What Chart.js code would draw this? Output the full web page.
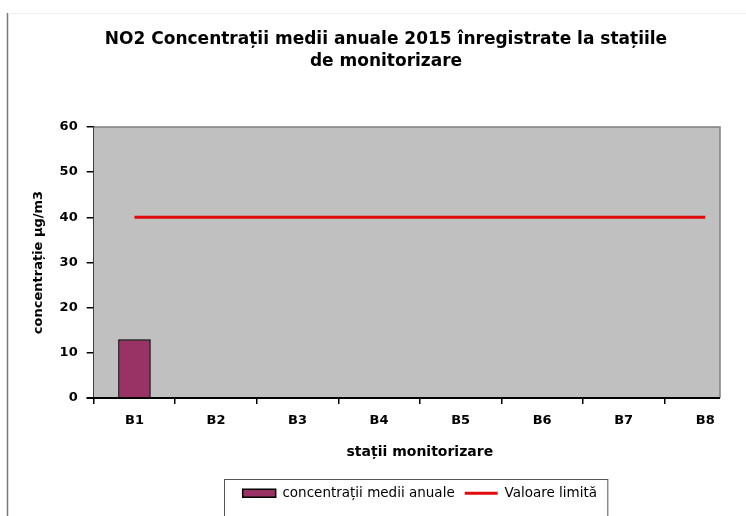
<!DOCTYPE html>
<html>
<head>
<meta charset="utf-8">
<script src="https://cdn.jsdelivr.net/npm/chart.js@4.4.1/dist/chart.umd.min.js"></script>
<style>
  html, body { margin: 0; padding: 0; background: #fff; }
  canvas { display: block; }
</style>
</head>
<body>
<canvas id="c" width="746" height="516"></canvas>
<script>
// NO2 annual means at monitoring stations, 2015
const stations = ["B1", "B2", "B3", "B4", "B5", "B6", "B7", "B8"];
const annualMeans = [13, null, null, null, null, null, null, null];
const limitValue = [40, 40, 40, 40, 40, 40, 40, 40];
const yTicks = [0, 10, 20, 30, 40, 50, 60];

const FONT = "'DejaVu Sans', 'Liberation Sans', Arial, sans-serif";

// grey plot background, top/right frame, x axis line, legend frame, page border
const decor = {
    id: "decor",
    beforeDatasetsDraw(chart) {
        const { ctx, chartArea: a } = chart;
        const right = a.right - 26;
        ctx.save();
        ctx.fillStyle = "#c0c0c0";
        ctx.fillRect(a.left, a.top, right - a.left, a.bottom - a.top);
        ctx.strokeStyle = "#808080";
        ctx.lineWidth = 1.5;
        ctx.beginPath();
        ctx.moveTo(a.left, a.top);
        ctx.lineTo(right, a.top);
        ctx.lineTo(right, a.bottom);
        ctx.stroke();
        ctx.strokeStyle = "#000";
        ctx.lineWidth = 2;
        ctx.beginPath();
        ctx.moveTo(a.left - 7, a.bottom);
        ctx.lineTo(right, a.bottom);
        ctx.stroke();
        ctx.restore();
    },
    afterDraw(chart) {
        const { ctx } = chart;
        ctx.save();
        ctx.strokeStyle = "#777";
        ctx.lineWidth = 1.5;
        ctx.beginPath();
        ctx.moveTo(7.5, 13);
        ctx.lineTo(7.5, 516);
        ctx.stroke();
        ctx.strokeStyle = "#eee";
        ctx.lineWidth = 1;
        ctx.beginPath();
        ctx.moveTo(8, 13.5);
        ctx.lineTo(746, 13.5);
        ctx.stroke();
        const boxes = chart.legend.legendHitBoxes;
        if (boxes && boxes.length) {
            const l = Math.min(...boxes.map(b => b.left)) - 19;
            const r = Math.max(...boxes.map(b => b.left + b.width)) + 10;
            const t = Math.min(...boxes.map(b => b.top)) - 8;
            ctx.strokeStyle = "#555";
            ctx.lineWidth = 1;
            ctx.strokeRect(Math.round(l) + 0.5, Math.round(t) + 0.5, r - l, 60);
        }
        ctx.restore();
    }
};

new Chart(document.getElementById("c"), {
    data: {
        labels: stations,
        datasets: [
            {
                type: "line",
                label: "Valoare limită",
                data: limitValue,
                borderColor: "#e00b0b",
                backgroundColor: "#e00b0b",
                borderWidth: 3,
                pointRadius: 0,
                pointStyle: "line",
                order: 1
            },
            {
                type: "bar",
                label: "concentrații medii anuale",
                data: annualMeans,
                backgroundColor: "#993366",
                borderColor: "#000",
                borderWidth: 1.5,
                barPercentage: 0.4,
                categoryPercentage: 1,
                pointStyle: "rect",
                order: 2
            }
        ]
    },
    options: {
        responsive: false,
        animation: false,
        layout: { padding: { left: 26, right: 0, top: 16, bottom: 6 } },
        plugins: {
            title: {
                display: true,
                text: ["NO2 Concentrații medii anuale 2015 înregistrate la stațiile", "de monitorizare"],
                color: "#000",
                font: { family: FONT, size: 17, weight: "bold", lineHeight: 1.32 },
                padding: { top: 12, bottom: 54 }
            },
            legend: {
                position: "bottom",
                fullSize: false,
                reverse: true,
                labels: {
                    usePointStyle: true,
                    pointStyleWidth: 33,
                    boxWidth: 33,
                    boxHeight: 8,
                    color: "#000",
                    padding: 10,
                    font: { family: FONT, size: 13.5 }
                }
            },
            tooltip: { enabled: false }
        },
        scales: {
            x: {
                offset: true,
                grid: {
                    offset: true,
                    drawOnChartArea: false,
                    tickLength: 6,
                    lineWidth: 1.5,
                    color: c => (c.type === "tick" ? "#000" : "rgba(0,0,0,0)")
                },
                border: { display: false },
                ticks: {
                    color: "#000",
                    padding: 9,
                    font: { family: FONT, size: 13, weight: "bold" }
                },
                title: {
                    display: true,
                    text: "stații monitorizare",
                    color: "#000",
                    font: { family: FONT, size: 14, weight: "bold" },
                    padding: { top: 6, bottom: 16 }
                }
            },
            y: {
                min: yTicks[0],
                max: yTicks[yTicks.length - 1],
                afterBuildTicks: s => { s.ticks = yTicks.map(v => ({ value: v })); },
                grid: {
                    drawOnChartArea: false,
                    tickLength: 7,
                    lineWidth: 1.5,
                    color: "#000"
                },
                border: { color: "#000", width: 1.5 },
                ticks: {
                    color: "#000",
                    padding: 9,
                    font: { family: FONT, size: 13, weight: "bold" }
                },
                title: {
                    display: true,
                    text: "concentrație µg/m3",
                    color: "#000",
                    font: { family: FONT, size: 13, weight: "bold" },
                    padding: { top: 5, bottom: 4 }
                }
            }
        }
    },
    plugins: [decor]
});
</script>
</body>
</html>
